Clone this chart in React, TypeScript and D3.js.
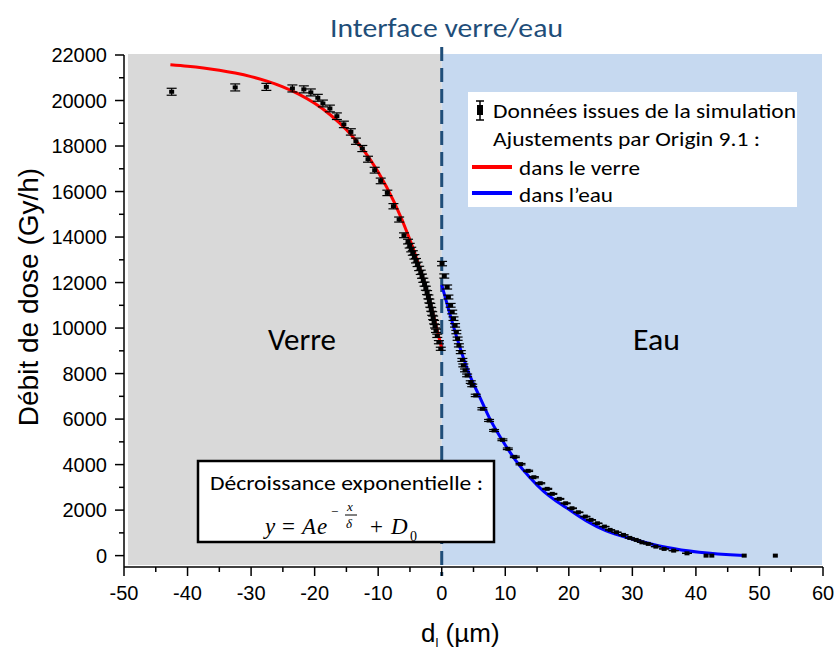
import React from "react";
import * as d3 from "d3";

// ---------- data ----------
const xTicks = [-50, -40, -30, -20, -10, 0, 10, 20, 30, 40, 50, 60];
const yTicks = [0, 2000, 4000, 6000, 8000, 10000, 12000, 14000, 16000, 18000, 20000, 22000];

// simulation points in glass (verre)
const glassX = [-42.5, -32.5, -27.6, -23.5, -21.7, -20.6, -19.5, -18.7, -17.6, -16.5, -15.4, -14.3, -13.5, -12.5, -11.6, -10.55, -9.6, -8.56, -7.6, -6.7, -5.94, -5.3, -5.04, -4.8, -4.55, -4.3, -4.05, -3.8, -3.55, -3.3, -3.1, -2.9, -2.7, -2.5, -2.3, -2.1, -1.95, -1.8, -1.65, -1.5, -1.35, -1.2, -1.05, -0.9, -0.7, -0.45, -0.15];
const glassY = [20385, 20575, 20600, 20530, 20490, 20355, 20120, 19870, 19650, 19310, 18950, 18620, 18210, 17890, 17420, 16938, 16467, 15940, 15354, 14769, 14078, 13800, 13620, 13450, 13300, 13130, 12960, 12800, 12620, 12450, 12280, 12100, 11930, 11750, 11560, 11370, 11190, 11000, 10820, 10640, 10450, 10260, 10080, 9880, 9660, 9380, 9090];

// simulation points in water (eau)
const waterX = [0.05, 0.4, 0.85, 1.05, 1.4, 1.65, 1.85, 2.1, 2.3, 2.5, 2.7, 3.0, 3.25, 3.4, 3.67, 4.0, 4.57, 4.8, 5.35, 6.4, 7.45, 8.24, 9.55, 10.4, 11.5, 12.4, 13.6, 14.5, 15.5, 16.6, 17.4, 18.5, 19.5, 20.5, 21.5, 22.6, 23.5, 24.5, 25.6, 26.5, 27.5, 28.6, 29.6, 30.6, 31.5, 32.5, 33.7, 35, 36.5, 38.6, 41.6, 42.5, 47.6, 52.5];
const waterY = [12833, 12288, 11804, 11364, 11000, 10706, 10413, 10119, 9825, 9533, 9240, 8944, 8600, 8360, 8140, 7920, 7625, 7480, 7040, 6454, 5940, 5500, 5090, 4694, 4340, 4020, 3725, 3445, 3181, 2934, 2714, 2494, 2300, 2081, 1905, 1716, 1570, 1421, 1276, 1130, 1025, 910, 778, 690, 585, 515, 396, 295, 220, 101, 0, 0, 0, 0];

// fitted curves
const fitGlassX = [-42.7, -40, -37.5, -35, -32.5, -30, -27.5, -25, -22.5, -20, -17.5, -15, -12.5, -10, -7.5, -5, -2.5, 0];
const fitGlassY = [21574, 21508, 21430, 21333, 21208, 21051, 20851, 20599, 20280, 19876, 19363, 18715, 17895, 16856, 15541, 13877, 11770, 9100];
const fitWaterX = [0, 1, 2.5, 4.3, 6.1, 7.5, 9.5, 11.6, 13.8, 16, 18, 19.5, 22.7, 25.8, 30, 35.3, 40.5, 47.6];
const fitWaterY = [11900, 10900, 9470, 8000, 6900, 6050, 5080, 4200, 3450, 2830, 2400, 2125, 1540, 1100, 730, 365, 145, 10];

const REL_ERR = 0.0075;

// ---------- layout ----------
const W = 837, H = 651;
const X0 = 124, X1 = 823;
const YTOP = 55, YBOT = 567;

const x = d3.scaleLinear().domain([-50, 60]).range([X0, X1]);
const y = d3.scaleLinear().domain([-500, 22000]).range([YBOT, YTOP]);

const lineGen = d3.line<[number, number]>().x(d => x(d[0])).y(d => y(d[1])).curve(d3.curveMonotoneX);

const zip = (a: number[], b: number[]) => a.map((v, i) => [v, b[i]] as [number, number]);

const CAL = "Carlito, Calibri, Lato, 'Open Sans', sans-serif";
const ARIAL = "'Liberation Sans', Arial, sans-serif";
const MATH = "'Cambria Math', 'Liberation Serif', 'DejaVu Serif', serif";

function Point({ px, py }: { px: number; py: number }) {
  const e = Math.max(py * REL_ERR, 0);
  const ya = y(py + e), yb = y(py - e);
  return (
    <g>
      {e > 0 && <line x1={x(px)} x2={x(px)} y1={ya} y2={yb} stroke="#000" strokeWidth={1.2} />}
      {e > 0 && <line x1={x(px) - 5} x2={x(px) + 5} y1={ya} y2={ya} stroke="#000" strokeWidth={1.2} />}
      {e > 0 && <line x1={x(px) - 5} x2={x(px) + 5} y1={yb} y2={yb} stroke="#000" strokeWidth={1.2} />}
      <rect x={x(px) - 2.5} y={y(py) - 2} width={5} height={4} fill="#000" />
    </g>
  );
}

export default function App() {
  const xMinor = d3.range(-45, 60, 10);
  const yMinor = d3.range(1000, 22000, 2000);
  const bgTop = 54, bgBot = 565;
  return (
    <svg width={W} height={H} style={{ position: "absolute", left: 0, top: 0, background: "#fff" }}>
      {/* backgrounds */}
      <rect x={128} y={bgTop} width={x(0) - 128} height={bgBot - bgTop} fill="#d9d9d9" />
      <rect x={x(0)} y={bgTop} width={822 - x(0)} height={bgBot - bgTop} fill="#c6d9f0" />

      {/* interface dashed line */}
      <line x1={x(0)} x2={x(0)} y1={47} y2={576} stroke="#1f4e79" strokeWidth={3} strokeDasharray="14 7" />

      {/* region labels */}
      <text x={268} y={350} fontFamily={CAL} fontSize={31} textLength={68} lengthAdjust="spacingAndGlyphs" fill="#000">Verre</text>
      <text x={633} y={350} fontFamily={CAL} fontSize={31} textLength={47} lengthAdjust="spacingAndGlyphs" fill="#000">Eau</text>

      {/* title */}
      <text x={330} y={37} fontFamily={CAL} fontSize={27} textLength={233} lengthAdjust="spacingAndGlyphs" fill="#1f4e79">Interface verre/eau</text>

      {/* fits */}
      <path d={lineGen(zip(fitGlassX, fitGlassY)) || ""} fill="none" stroke="#ff0000" strokeWidth={3} />
      <path d={lineGen(zip(fitWaterX, fitWaterY)) || ""} fill="none" stroke="#0000ff" strokeWidth={3} />

      {/* points */}
      {glassX.map((v, i) => <Point key={"g" + i} px={v} py={glassY[i]} />)}
      {waterX.map((v, i) => <Point key={"w" + i} px={v} py={waterY[i]} />)}

      {/* axes */}
      <line x1={X0} x2={X0} y1={YTOP} y2={YBOT} stroke="#000" strokeWidth={1.5} />
      <line x1={X0} x2={X1} y1={YBOT} y2={YBOT} stroke="#000" strokeWidth={1.5} />
      {xTicks.map(t => (
        <g key={"xt" + t}>
          <line x1={x(t)} x2={x(t)} y1={YBOT} y2={YBOT + 9} stroke="#000" strokeWidth={1.5} />
          <text x={x(t)} y={600} fontFamily={ARIAL} fontSize={20} textAnchor="middle" fill="#000">{t}</text>
        </g>
      ))}
      {xMinor.map(t => <line key={"xm" + t} x1={x(t)} x2={x(t)} y1={YBOT} y2={YBOT + 5} stroke="#000" strokeWidth={1.5} />)}
      {yTicks.map(t => (
        <g key={"yt" + t}>
          <line x1={X0 - 9} x2={X0} y1={y(t)} y2={y(t)} stroke="#000" strokeWidth={1.5} />
          <text x={X0 - 17} y={y(t) + 7} fontFamily={ARIAL} fontSize={20} textAnchor="end" fill="#000">{t}</text>
        </g>
      ))}
      {yMinor.map(t => <line key={"ym" + t} x1={X0 - 5} x2={X0} y1={y(t)} y2={y(t)} stroke="#000" strokeWidth={1.5} />)}

      {/* axis titles */}
      <text transform={`translate(38,297) rotate(-90)`} fontFamily={ARIAL} fontSize={28} textAnchor="middle" fill="#000">Débit de dose (Gy/h)</text>
      <text x={421} y={642} fontFamily={ARIAL} fontSize={26} fill="#000">
        d<tspan fontSize={13} dy={5}>l</tspan><tspan dy={-5}>{"  (µm)"}</tspan>
      </text>

      {/* legend */}
      <rect x={468} y={92} width={329} height={115} fill="#fff" />
      <line x1={480} x2={480} y1={101} y2={120} stroke="#000" strokeWidth={1.5} />
      <line x1={476} x2={484} y1={101} y2={101} stroke="#000" strokeWidth={1.5} />
      <line x1={476} x2={484} y1={120} y2={120} stroke="#000" strokeWidth={1.5} />
      <rect x={477} y={105} width={6} height={10} fill="#000" />
      <text x={493} y={118} fontFamily={CAL} fontSize={21} textLength={303} lengthAdjust="spacingAndGlyphs" fill="#000">Données issues de la simulation</text>
      <text x={493} y={146} fontFamily={CAL} fontSize={21} textLength={267} lengthAdjust="spacingAndGlyphs" fill="#000">Ajustements par Origin 9.1 :</text>
      <line x1={472} x2={512} y1={167} y2={167} stroke="#ff0000" strokeWidth={4} />
      <text x={519} y={175} fontFamily={CAL} fontSize={21} textLength={121} lengthAdjust="spacingAndGlyphs" fill="#000">dans le verre</text>
      <line x1={472} x2={512} y1={193} y2={193} stroke="#0000ff" strokeWidth={4} />
      <text x={519} y={202} fontFamily={CAL} fontSize={21} textLength={94} lengthAdjust="spacingAndGlyphs" fill="#000">dans l’eau</text>

      {/* formula box */}
      <rect x={198} y={461} width={296} height={81} fill="#fff" stroke="#000" strokeWidth={2.5} />
      <text x={210} y={490} fontFamily={CAL} fontSize={21} textLength={273} lengthAdjust="spacingAndGlyphs" fill="#000">Décroissance exponentielle :</text>
      <g fontFamily={MATH} fill="#000">
        <text x={265} y={534} fontSize={23} fontStyle="italic">y</text>
        <text x={282} y={534} fontSize={23}>=</text>
        <text x={302} y={534} fontSize={23} fontStyle="italic">A</text>
        <text x={317} y={534} fontSize={23} fontStyle="italic">e</text>
        <text x={331} y={516} fontSize={13}>−</text>
        <text x={347} y={511} fontSize={13} fontStyle="italic">x</text>
        <line x1={345} x2={357} y1={515} y2={515} stroke="#000" strokeWidth={1} />
        <text x={346} y={528} fontSize={13} fontStyle="italic">δ</text>
        <text x={370} y={534} fontSize={23}>+</text>
        <text x={391} y={534} fontSize={23} fontStyle="italic">D</text>
        <text x={410} y={541} fontSize={14}>0</text>
      </g>
    </svg>
  );
}
